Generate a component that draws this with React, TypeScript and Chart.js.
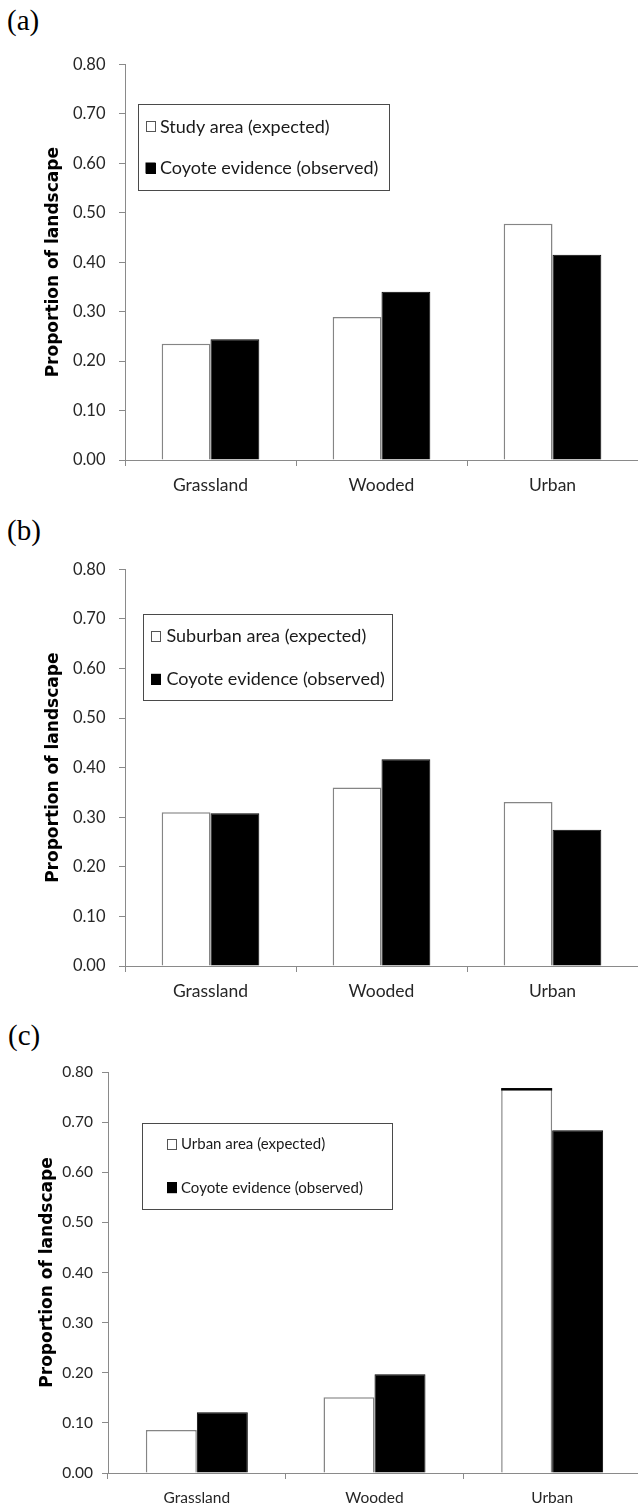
import React, { useEffect, useRef } from 'react';
import { Chart, registerables } from 'chart.js';

Chart.register(...registerables);

// ---------------- data ----------------
const categories = ['Grassland', 'Wooded', 'Urban'];
const yTitle = 'Proportion of landscape';
const panelLabels = ['(a)', '(b)', '(c)'];

const expectedA = [0.235, 0.289, 0.478];
const observedA = [0.244, 0.34, 0.415];
const expectedB = [0.31, 0.36, 0.331];
const observedB = [0.308, 0.417, 0.275];
const expectedC = [0.086, 0.151, 0.767];
const observedC = [0.121, 0.197, 0.684];

const expectedLabels = ['Study area (expected)', 'Suburban area (expected)', 'Urban area (expected)'];
const observedLabel = 'Coyote evidence (observed)';

const yMin = 0;
const yMax = 0.8;
const yStep = 0.1;

// ---------------- styles / layout ----------------
const AXIS = '#8a8a8a';
const TEXT = '#262626';
const PAD_TOP = 20;
const X_AXIS_H = 40;

type LegendCfg = {
  x: number; y: number; w: number; h: number;
  rows: number[]; markerX: number; markerW: number; markerH: number;
  textX: number; fontSize: number;
};

type PanelCfg = {
  expected: number[]; observed: number[]; expLabel: string; label: string;
  left: number; width: number; plotTop: number; plotBottom: number; axisX: number;
  titlePad: number; tickPad: number; tickFont: number; labelFont: number; labelPad: number;
  catPct: number; legend: LegendCfg; labelLeft: number; labelTop: number; topEdge?: boolean;
};

const panels: PanelCfg[] = [
  {
    expected: expectedA, observed: observedA, expLabel: expectedLabels[0], label: panelLabels[0],
    left: 0, width: 638, plotTop: 61, plotBottom: 460, axisX: 125,
    titlePad: 43.8, tickPad: 13.5, tickFont: 16.5, labelFont: 17.5, labelPad: 8.5, catPct: 0.571,
    legend: { x: 137.6, y: 104.3, w: 251, h: 85.7, rows: [126.7, 168], markerX: 145.5, markerW: 10, markerH: 11, textX: 160, fontSize: 18 },
    labelLeft: 7, labelTop: 6,
  },
  {
    expected: expectedB, observed: observedB, expLabel: expectedLabels[1], label: panelLabels[1],
    left: 0, width: 638, plotTop: 566, plotBottom: 966, axisX: 125,
    titlePad: 43.8, tickPad: 13.5, tickFont: 16.5, labelFont: 17.5, labelPad: 8.5, catPct: 0.571,
    legend: { x: 143.3, y: 614.3, w: 248.7, h: 85.7, rows: [636, 679.3], markerX: 151, markerW: 10, markerH: 11, textX: 166.5, fontSize: 18 },
    labelLeft: 7, labelTop: 516,
  },
  {
    expected: expectedC, observed: observedC, expLabel: expectedLabels[2], label: panelLabels[2],
    left: 0, width: 641, plotTop: 1072, plotBottom: 1473, axisX: 108,
    titlePad: 37.8, tickPad: 9, tickFont: 15.5, labelFont: 15.5, labelPad: 9.7, catPct: 0.574,
    legend: { x: 141.6, y: 1122.5, w: 250, h: 85.8, rows: [1144.3, 1187.7], markerX: 167, markerW: 10, markerH: 11, textX: 181, fontSize: 15 },
    labelLeft: 8, labelTop: 1021, topEdge: true,
  },
];

function makeLegendPlugin(cfg: LegendCfg, canvasTop: number) {
  return {
    id: 'boxLegend',
    afterDatasetsDraw(chart: any) {
      const ctx: CanvasRenderingContext2D = chart.ctx;
      const by = cfg.y - canvasTop;
      ctx.save();
      ctx.fillStyle = '#ffffff';
      ctx.fillRect(cfg.x, by, cfg.w, cfg.h);
      ctx.strokeStyle = '#4a4a4a';
      ctx.lineWidth = 1;
      ctx.strokeRect(Math.round(cfg.x) + 0.5, Math.round(by) + 0.5, Math.round(cfg.w), Math.round(cfg.h));
      chart.data.datasets.forEach((ds: any, i: number) => {
        const cy = cfg.rows[i] - canvasTop;
        const my = cy - cfg.markerH / 2;
        ctx.fillStyle = ds.backgroundColor;
        ctx.fillRect(cfg.markerX, my, cfg.markerW, cfg.markerH);
        ctx.strokeStyle = i === 0 ? '#555555' : '#000000';
        ctx.lineWidth = 1;
        ctx.strokeRect(Math.round(cfg.markerX) + 0.5, Math.round(my) + 0.5, cfg.markerW - 1, cfg.markerH - 1);
        ctx.fillStyle = '#1a1a1a';
        ctx.font = `${cfg.fontSize}px Lato`;
        ctx.textBaseline = 'middle';
        ctx.textAlign = 'left';
        ctx.fillText(ds.label, cfg.textX, cy);
      });
      ctx.restore();
    },
  };
}

const topEdgePlugin = {
  id: 'topEdge',
  afterDatasetsDraw(chart: any) {
    const meta = chart.getDatasetMeta(0);
    const el = meta.data[2];
    if (!el) return;
    const { x, y, width } = el.getProps(['x', 'y', 'width'], true);
    const ctx: CanvasRenderingContext2D = chart.ctx;
    ctx.save();
    ctx.fillStyle = '#000000';
    ctx.fillRect(x - width / 2, y - 0.5, width, 2.5);
    ctx.restore();
  },
};

function Panel({ cfg }: { cfg: PanelCfg }) {
  const ref = useRef<HTMLCanvasElement | null>(null);
  const canvasTop = cfg.plotTop - PAD_TOP;
  const height = PAD_TOP + (cfg.plotBottom - cfg.plotTop) + X_AXIS_H;

  useEffect(() => {
    if (!ref.current) return;
    const plugins: any[] = [makeLegendPlugin(cfg.legend, canvasTop)];
    if (cfg.topEdge) plugins.push(topEdgePlugin);
    const chart = new Chart(ref.current, {
      type: 'bar',
      data: {
        labels: categories,
        datasets: [
          {
            label: cfg.expLabel,
            data: cfg.expected,
            backgroundColor: '#ffffff',
            borderColor: '#858585',
            borderWidth: 1.5,
            categoryPercentage: cfg.catPct,
            barPercentage: 1,
          },
          {
            label: observedLabel,
            data: cfg.observed,
            backgroundColor: '#000000',
            borderColor: '#000000',
            borderWidth: 1,
            categoryPercentage: cfg.catPct,
            barPercentage: 1,
          },
        ],
      },
      options: {
        animation: false,
        responsive: true,
        maintainAspectRatio: false,
        devicePixelRatio: 1,
        layout: { padding: { top: PAD_TOP, left: 0, right: 0, bottom: 0 } },
        plugins: {
          legend: { display: false },
          tooltip: { enabled: false },
          title: { display: false },
        },
        scales: {
          x: {
            offset: true,
            grid: { drawOnChartArea: false, drawTicks: true, tickLength: 6, color: AXIS, offset: true, lineWidth: 1 },
            border: { color: AXIS, width: 1 },
            ticks: { color: TEXT, font: { family: 'Lato', size: cfg.labelFont }, padding: cfg.labelPad, maxRotation: 0 },
            afterFit: (s: any) => { s.height = X_AXIS_H; },
          },
          y: {
            min: yMin,
            max: yMax,
            grid: { drawOnChartArea: false, drawTicks: true, tickLength: 6, color: AXIS, lineWidth: 1 },
            border: { color: AXIS, width: 1 },
            ticks: {
              stepSize: yStep,
              color: TEXT,
              font: { family: 'Lato', size: cfg.tickFont },
              padding: cfg.tickPad,
              callback: (v: any) => Number(v).toFixed(2),
            },
            title: {
              display: true,
              text: yTitle,
              color: '#000000',
              font: { family: 'DejaVu Sans', weight: 'bold', size: 17 },
              padding: { top: cfg.titlePad, bottom: 0 },
            },
            afterFit: (s: any) => { s.width = cfg.axisX - cfg.left; },
          },
        },
      },
      plugins,
    } as any);
    return () => chart.destroy();
  }, []);

  return (
    <>
      <div
        style={{
          position: 'absolute', left: cfg.labelLeft, top: cfg.labelTop,
          fontFamily: '"Liberation Serif", "Times New Roman", serif', fontSize: 29, lineHeight: '29px', color: '#000',
        }}
      >
        {cfg.label}
      </div>
      <div style={{ position: 'absolute', left: cfg.left, top: canvasTop, width: cfg.width, height }}>
        <canvas ref={ref} />
      </div>
    </>
  );
}

export default function App() {
  return (
    <div
      style={{
        position: 'absolute', left: 0, top: 0, width: 638, height: 1505,
        overflow: 'hidden', background: '#ffffff',
      }}
    >
      {panels.map((p, i) => (
        <Panel key={i} cfg={p} />
      ))}
    </div>
  );
}
